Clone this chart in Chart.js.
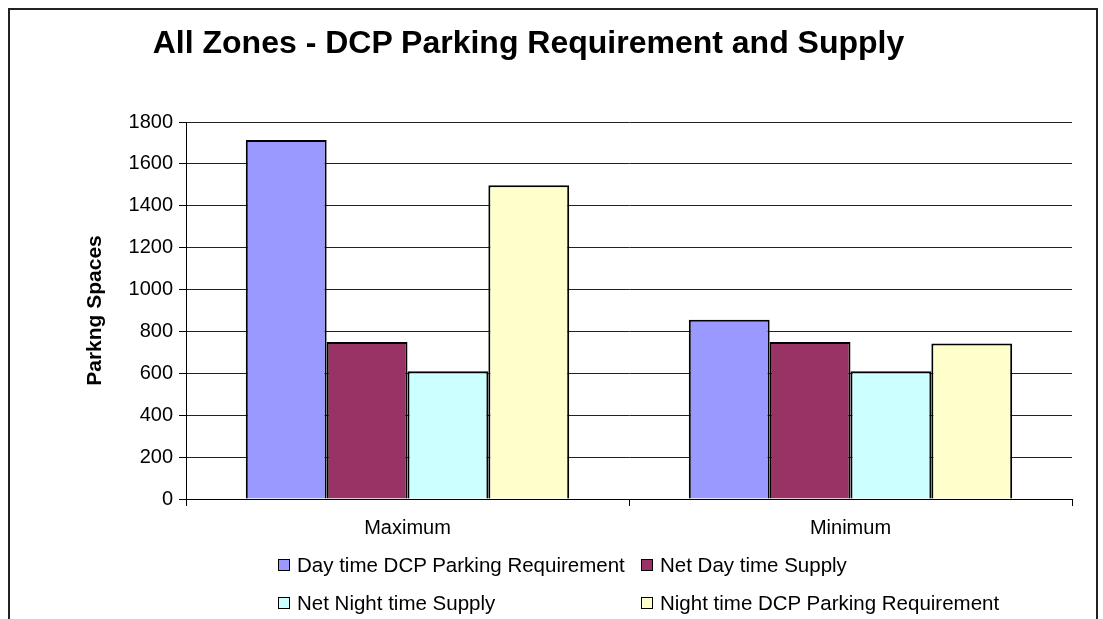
<!DOCTYPE html>
<html>
<head>
<meta charset="utf-8">
<script src="https://cdn.jsdelivr.net/npm/chart.js@4.4.1/dist/chart.umd.min.js"></script>
<style>
html, body { margin: 0; padding: 0; background: #fff; }
#wrap { position: relative; width: 1103px; height: 619px; overflow: hidden; font-family: Arial, "Liberation Sans", sans-serif; }
#frame { position: absolute; left: 8px; top: 8px; width: 1086px; height: 700px; border: 2px solid #222; }
#chart { position: absolute; left: 0; top: 0; }
#title { position: absolute; left: 0; top: 24px; width: 1057px; text-align: center; font-weight: bold; font-size: 32px; color: #000; }
.leg { position: absolute; font-size: 20.5px; line-height: 24px; white-space: nowrap; color: #000; }
.leg i { display: inline-block; width: 10px; height: 10px; border: 1px solid #000; margin-right: 7px; vertical-align: 1px; }
</style>
</head>
<body>
<div id="wrap">
  <div id="frame"></div>
  <canvas id="chart" width="1103" height="619"></canvas>
  <div id="title">All Zones - DCP Parking Requirement and Supply</div>
  <div id="legend"></div>
</div>
<script>
// data
const categories = ['Maximum', 'Minimum'];
const seriesNames = ['Day time DCP Parking Requirement', 'Net Day time Supply', 'Net Night time Supply', 'Night time DCP Parking Requirement'];
const dayReq = [1714, 856];
const netDaySupply = [750, 750];
const netNightSupply = [610, 610];
const nightReq = [1498, 742];
const seriesColors = ['#9999FF', '#993366', '#CCFFFF', '#FFFFCC'];
const yMax = 1800, yStep = 200;

const seriesValues = [dayReq, netDaySupply, netNightSupply, nightReq];
const fam = 'Arial, "Liberation Sans", sans-serif';

// legend as html, laid out in 2 columns like the original
const legPos = [[278, 553], [641, 553], [278, 591], [641, 591]];
const legBox = document.getElementById('legend');
seriesNames.forEach((n, i) => {
    legBox.innerHTML += `<div class="leg" style="left:${legPos[i][0]}px; top:${legPos[i][1]}px;"><i style="background:${seriesColors[i]}"></i>${n}</div>`;
});

new Chart(document.getElementById('chart'), {
    type: 'bar',
    data: {
        labels: categories,
        datasets: seriesNames.map((n, i) => ({
            label: n, data: seriesValues[i], backgroundColor: seriesColors[i],
            borderColor: '#000', borderWidth: 2,
            categoryPercentage: 0.73, barPercentage: 1
        }))
    },
    options: {
        responsive: false, animation: false,
        layout: { padding: { top: 122, right: 31, bottom: 70, left: 0 } },
        plugins: { legend: { display: false }, title: { display: false }, tooltip: { enabled: false } },
        scales: {
            x: {
                grid: { offset: true, color: c => c.index === 2 ? '#808080' : 'rgba(0,0,0,0)', tickColor: '#000', tickLength: 7 },
                border: { color: '#000' },
                ticks: { font: { family: fam, size: 20 }, color: '#000', padding: 10 },
                afterFit: s => { s.height = 50; }
            },
            y: {
                min: 0, max: yMax,
                ticks: { stepSize: yStep, font: { family: fam, size: 20 }, color: '#000', padding: 6, callback: v => String(v) },
                grid: { color: '#222', tickColor: '#000', tickLength: 7 },
                border: { color: '#000' },
                title: { display: true, text: 'Parkng Spaces', color: '#000', font: { family: fam, size: 21, weight: 'bold' }, padding: { top: 83, bottom: 0 } },
                afterFit: s => { s.width = 186; }
            }
        }
    }
});
</script>
</body>
</html>
